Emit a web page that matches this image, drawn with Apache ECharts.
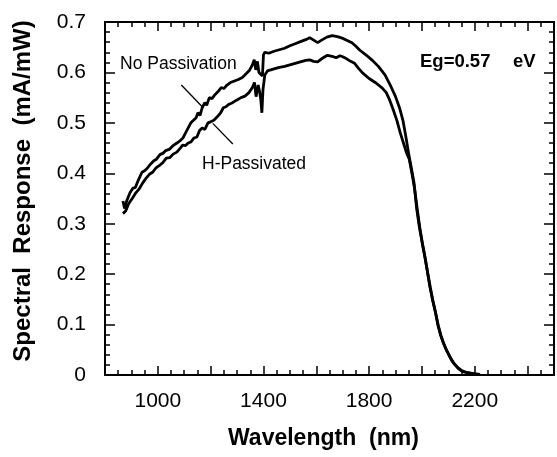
<!DOCTYPE html>
<html>
<head>
<meta charset="utf-8">
<script src="https://cdn.jsdelivr.net/npm/echarts@6/dist/echarts.min.js"></script>
<style>
html,body{margin:0;padding:0;background:#fff;}
#c{width:557px;height:457px;}
</style>
</head>
<body>
<div id="c"></div>
<script>
// ---- Data ----
var npWave = [868,874,882,895,905,915,925,940,950,960,972,985,995,1008,1020,1030,1045,1058,1072,1085,1095,1105,1115,1125,1135,1145,1152,1160,1168,1178,1185,1195,1205,1215,1228,1240,1250,1262,1275,1290,1305,1320,1335,1348,1358,1365,1371,1377,1383,1390,1396,1400,1405,1420,1440,1460,1480,1500,1520,1540,1560,1575,1590,1605,1620,1640,1660,1680,1698,1715,1735,1750,1765,1790,1810,1835,1860,1880,1900,1915,1928,1940,1950,1960,1970,1980,1990,2000,2010,2020,2030,2040,2050,2060,2070,2080,2090,2100,2110,2120,2135,2150,2170,2200,2215];
var npResp = [0.345,0.33,0.345,0.362,0.37,0.372,0.385,0.402,0.405,0.41,0.418,0.425,0.428,0.437,0.44,0.445,0.448,0.455,0.46,0.465,0.47,0.48,0.49,0.5,0.505,0.51,0.52,0.515,0.53,0.54,0.535,0.55,0.548,0.555,0.562,0.57,0.568,0.575,0.58,0.583,0.586,0.59,0.598,0.605,0.615,0.625,0.605,0.622,0.6,0.598,0.593,0.635,0.64,0.638,0.642,0.645,0.648,0.653,0.657,0.661,0.665,0.669,0.664,0.659,0.664,0.67,0.673,0.671,0.668,0.664,0.659,0.652,0.644,0.634,0.625,0.612,0.595,0.575,0.552,0.53,0.505,0.47,0.438,0.41,0.381,0.33,0.294,0.265,0.238,0.207,0.175,0.15,0.128,0.1,0.08,0.066,0.053,0.042,0.032,0.024,0.015,0.009,0.005,0.002,0.001];

var hpWave = [868,878,890,903,915,928,943,955,968,980,992,1005,1019,1032,1045,1058,1072,1085,1094,1105,1115,1125,1137,1148,1158,1168,1178,1190,1200,1212,1225,1238,1248,1258,1270,1283,1298,1315,1330,1345,1358,1366,1372,1380,1386,1390,1394,1398,1405,1415,1440,1460,1480,1500,1520,1540,1560,1575,1590,1605,1620,1642,1660,1675,1690,1700,1715,1730,1745,1760,1775,1800,1826,1850,1865,1878,1890,1905,1918,1930,1942,1952,1962,1972,1982,1992,2002,2012,2022,2032,2042,2052,2062,2072,2082,2092,2102,2112,2122,2137,2152,2172,2202,2220];
var hpResp = [0.32,0.325,0.34,0.35,0.36,0.368,0.381,0.39,0.398,0.402,0.41,0.415,0.421,0.43,0.431,0.438,0.442,0.45,0.456,0.455,0.46,0.462,0.47,0.472,0.485,0.49,0.487,0.5,0.502,0.505,0.512,0.52,0.53,0.532,0.537,0.54,0.545,0.55,0.553,0.56,0.57,0.58,0.552,0.575,0.56,0.545,0.52,0.565,0.595,0.603,0.607,0.61,0.612,0.615,0.618,0.621,0.624,0.625,0.622,0.621,0.627,0.634,0.632,0.629,0.633,0.631,0.627,0.622,0.618,0.608,0.599,0.588,0.579,0.569,0.56,0.545,0.528,0.505,0.48,0.46,0.44,0.428,0.4,0.37,0.33,0.292,0.26,0.232,0.202,0.173,0.145,0.122,0.098,0.078,0.062,0.05,0.04,0.03,0.022,0.013,0.007,0.004,0.002,0.001];

var xLabelValues = [1000, 1400, 1800, 2200];
var yLabelValues = [0, 0.1, 0.2, 0.3, 0.4, 0.5, 0.6, 0.7];

// leader lines (data coordinates) for annotations
var npLeader = [[1089, 0.575], [1170, 0.531]];
var hpLeader = [[1208, 0.499], [1284, 0.458]];

function pairs(xs, ys){ var o=[]; for (var i=0;i<xs.length;i++) o.push([xs[i], ys[i]]); return o; }

var chart = echarts.init(document.getElementById('c'), null, {renderer:'canvas'});
var tickFont = 'Liberation Sans, Arial, Helvetica, sans-serif';

function xAxisCfg(pos, showLabel){
  return {
    type:'value', position:pos, min:800, max:2500, interval:200,
    axisLine:{show:true, onZero:false, lineStyle:{color:'#000', width:2}},
    axisTick:{show:true, inside:true, length:9, lineStyle:{color:'#000', width:1.5}},
    minorTick:{show:true, splitNumber:4, length:5, lineStyle:{color:'#000', width:1.5}},
    splitLine:{show:false}, minorSplitLine:{show:false},
    axisLabel:{show:showLabel, margin:16, color:'#000', fontSize:21, fontFamily:tickFont,
      formatter:function(v){ return xLabelValues.indexOf(v) >= 0 ? String(v) : ''; }}
  };
}
function yAxisCfg(pos, showLabel){
  return {
    type:'value', position:pos, min:0, max:0.7, interval:0.1,
    axisLine:{show:true, onZero:false, lineStyle:{color:'#000', width:2}},
    axisTick:{show:true, inside:true, length:10, lineStyle:{color:'#000', width:1.5}},
    minorTick:{show:true, splitNumber:5, length:5, lineStyle:{color:'#000', width:1.5}},
    splitLine:{show:false}, minorSplitLine:{show:false},
    axisLabel:{show:showLabel, margin:19, color:'#000', fontSize:21, fontFamily:tickFont,
      formatter:function(v){
        for (var i=0;i<yLabelValues.length;i++){ if (Math.abs(yLabelValues[i]-v) < 1e-6) return v === 0 ? '0' : yLabelValues[i].toFixed(1); }
        return '';
      }}
  };
}

var option = {
  animation:false,
  backgroundColor:'#fff',
  grid:{left:105, top:22, width:451, height:353, containLabel:false},
  xAxis:[xAxisCfg('bottom', true), xAxisCfg('top', false)],
  yAxis:[yAxisCfg('left', true), yAxisCfg('right', false)],
  series:[
    {
      name:'No Passivation', type:'line', xAxisIndex:0, yAxisIndex:0,
      data:pairs(npWave, npResp), showSymbol:false, smooth:false,
      lineStyle:{color:'#000', width:2.8}, itemStyle:{color:'#000'},
      markLine:{
        silent:true, symbol:['none','none'], label:{show:false},
        lineStyle:{color:'#000', width:1.3, type:'solid'},
        data:[
          [{coord:npLeader[0]}, {coord:npLeader[1]}],
          [{coord:hpLeader[0]}, {coord:hpLeader[1]}]
        ]
      }
    },
    {
      name:'H-Passivated', type:'line', xAxisIndex:0, yAxisIndex:0,
      data:pairs(hpWave, hpResp), showSymbol:false, smooth:false,
      lineStyle:{color:'#000', width:2.8}, itemStyle:{color:'#000'}
    }
  ],
  graphic:[
    {type:'text', left:120, top:55, style:{text:'No Passivation', fill:'#000', font:'17.5px Liberation Sans, Arial, sans-serif'}},
    {type:'text', left:202, top:155, style:{text:'H-Passivated', fill:'#000', font:'17.5px Liberation Sans, Arial, sans-serif'}},
    {type:'text', left:420, top:52, style:{text:'Eg=0.57', fill:'#000', font:'bold 18.5px Liberation Sans, Arial, sans-serif'}},
    {type:'text', left:513, top:52, style:{text:'eV', fill:'#000', font:'bold 18.5px Liberation Sans, Arial, sans-serif'}},
    {type:'text', left:228, top:427, style:{text:'Wavelength  (nm)', fill:'#000', font:'bold 23px Liberation Sans, Arial, sans-serif'}},
    {type:'text', x:23, y:191, rotation:Math.PI/2, style:{text:'Spectral  Response  (mA/mW)', fill:'#000', font:'bold 24px Liberation Sans, Arial, sans-serif', align:'center', verticalAlign:'middle'}}
  ]
};
chart.setOption(option);
</script>
</body>
</html>
